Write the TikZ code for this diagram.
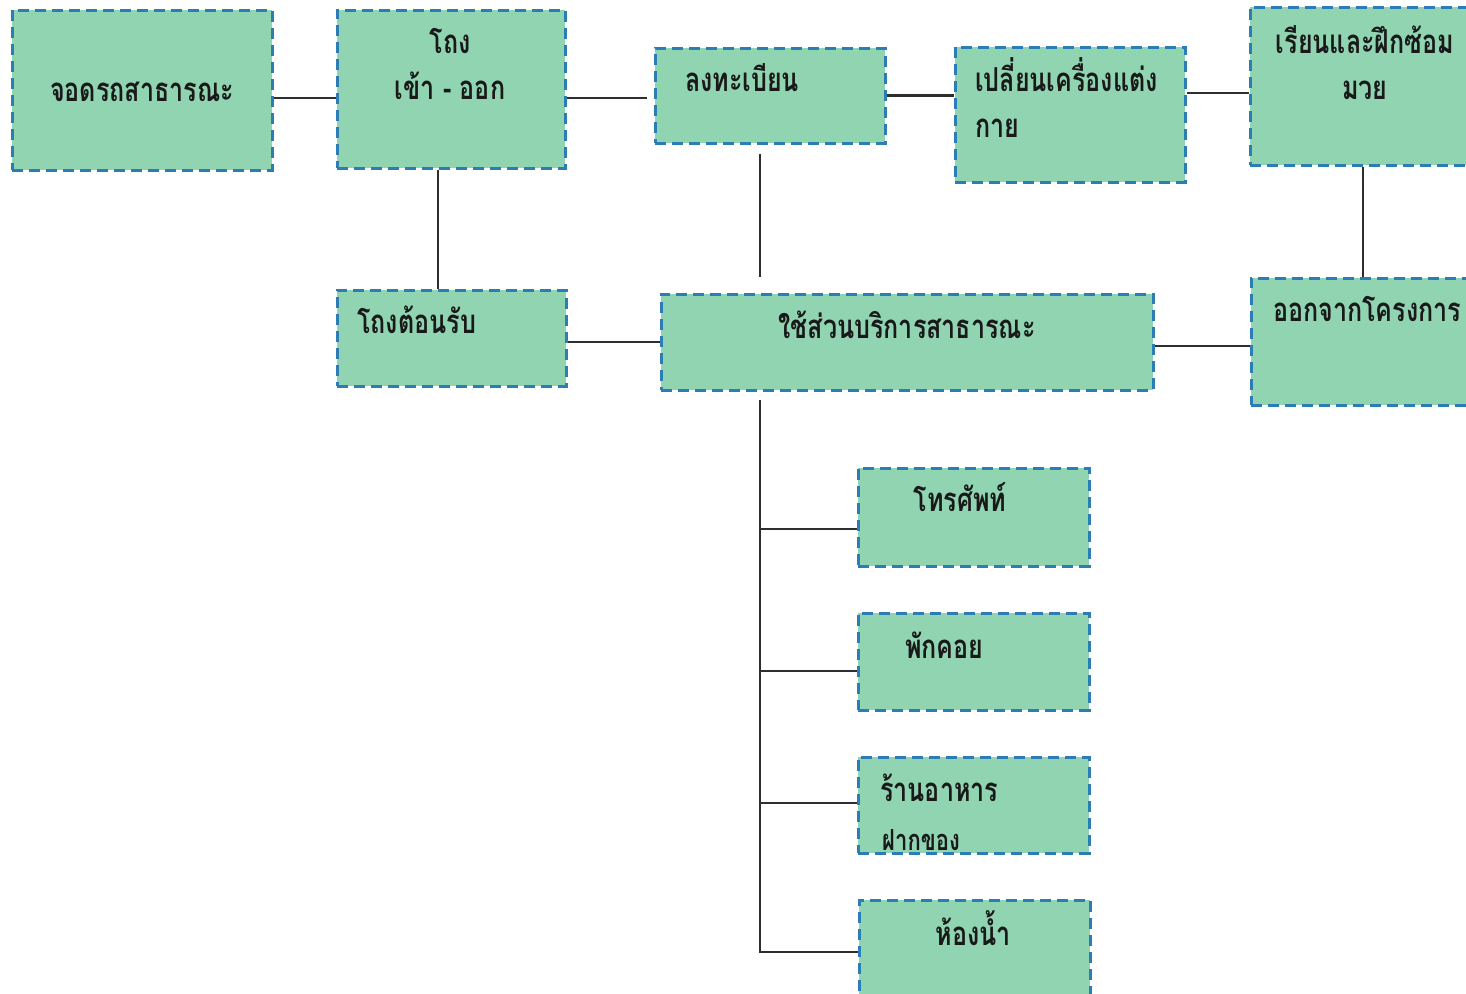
\documentclass[tikz,border=0pt]{standalone}
\usepackage{fontspec}
\usepackage{tikz}
\usetikzlibrary{positioning}
\newfontfamily\thaifont[Script=Thai,FakeStretch=0.76]{Loma}
\definecolor{boxgreen}{HTML}{90D4B2}
\definecolor{boxblue}{HTML}{2B7DB3}
\definecolor{linkgray}{HTML}{2E2E2E}
\tikzset{
  roombox/.style={rectangle,draw=boxblue,fill=boxgreen,line width=3pt,dash pattern=on 11pt off 6pt,inner sep=0pt},
  lbl/.style={inner sep=0pt,font=\thaifont\bfseries\fontsize{33}{36}\selectfont,text=black!90},
  lblw/.style={lbl,anchor=base west},
  lblc/.style={lbl,anchor=base},
  link/.style={draw=linkgray,line width=2.8pt},
}
\begin{document}
\begin{tikzpicture}[x=1pt,y=-1pt]
  \clip (0,0) rectangle (1466,993);
  \fill[white] (0,0) rectangle (1466,993);
  % boxes
  \node[roombox,minimum width=260pt,minimum height=160pt] (bPark) at (142,90) {};
  \node[roombox,minimum width=228pt,minimum height=158pt] (bHall) at (451,89) {};
  \node[roombox,minimum width=230pt,minimum height=95pt] (bReg) at (770,95.5) {};
  \node[roombox,minimum width=230pt,minimum height=135pt] (bDress) at (1070,114.5) {};
  \node[roombox,minimum width=226pt,minimum height=158pt] (bBox) at (1363,86) {};
  \node[roombox,minimum width=229pt,minimum height=96pt] (bLobby) at (451.5,338) {};
  \node[roombox,minimum width=492pt,minimum height=96pt] (bPub) at (907,342) {};
  \node[roombox,minimum width=226pt,minimum height=127pt] (bExit) at (1364,341.5) {};
  \node[roombox,minimum width=231pt,minimum height=98pt] (bPhone) at (973.5,517) {};
  \node[roombox,minimum width=231pt,minimum height=97pt] (bRest) at (973.5,661.5) {};
  \node[roombox,minimum width=231pt,minimum height=96pt] (bFood) at (973.5,805) {};
  \node[roombox,minimum width=231pt,minimum height=104pt] (bToilet) at (974.5,952) {};
  % labels
  \node[lblc] (tPark) at (142,101) {จอดรถสาธารณะ};
  \node[lblc] (tHallA) at (450,53) {โถง};
  \node[lblc] (tHallB) at (450,99) {เข้า - ออก};
  \node[lblw] (tReg) at (685,91) {ลงทะเบียน};
  \node[lblw] (tDressA) at (975,91) {เปลี่ยนเครื่องแต่ง};
  \node[lblw] (tDressB) at (975,137) {กาย};
  \node[lblc] (tBoxA) at (1365,53) {เรียนและฝึกซ้อม};
  \node[lblc] (tBoxB) at (1365,99) {มวย};
  \node[lblw] (tLobby) at (357,333) {โถงต้อนรับ};
  \node[lblc] (tPub) at (907,338) {ใช้ส่วนบริการสาธารณะ};
  \node[lblw] (tExit) at (1273,321) {ออกจากโครงการ};
  \node[lblc] (tPhone) at (960,511) {โทรศัพท์};
  \node[lblw] (tRest) at (905,658) {พักคอย};
  \node[lblw] (tFoodA) at (880,801) {ร้านอาหาร};
  \begin{scope}
    \clip (bFood.north west) rectangle ([yshift=2pt]bFood.south east);
    \node[lblw,font=\thaifont\bfseries\fontsize{29}{31}\selectfont] (tFoodB) at (882,850) {ฝากของ};
  \end{scope}
  \node[lblc] (tToilet) at (973,945) {ห้องน้ำ};
  % connectors
  \coordinate (cTrunk) at (760,0);
  \draw[link] ([yshift=-8pt]bPark.east) -- ([yshift=-8pt]bPark.east -| bHall.west);
  \draw[link,shorten >=7pt] ([yshift=-9pt]bHall.east) -- ([yshift=-9pt]bHall.east -| bReg.west);
  \draw[link] (bReg.east) -- (bReg.east -| bDress.west);
  \draw[link] ([yshift=-7pt]bBox.west) -- ([yshift=-7pt]bBox.west -| bDress.east);
  \draw[link] ([xshift=-13pt]bHall.south) -- ([xshift=-13pt]bHall.south |- bLobby.north);
  \draw[link,shorten <=9pt,shorten >=16pt] (bReg.south -| cTrunk) -- (bPub.north -| cTrunk);
  \draw[link] (bBox.south) -- (bBox.south |- bExit.north);
  \draw[link] (bPub.west) -- (bPub.west -| bLobby.east);
  \draw[link] ([yshift=-4pt]bPub.east) -- ([yshift=-4pt]bPub.east -| bExit.west);
  \draw[link,shorten <=8pt] (bPub.south -| cTrunk) -- (bToilet.west -| cTrunk) -- (bToilet.west);
  \draw[link] ([yshift=-12pt]bPhone.west -| cTrunk) -- ([yshift=-12pt]bPhone.west);
  \draw[link] ([yshift=-9.5pt]bRest.west -| cTrunk) -- ([yshift=-9.5pt]bRest.west);
  \draw[link] ([yshift=2pt]bFood.west -| cTrunk) -- ([yshift=2pt]bFood.west);
\end{tikzpicture}
\end{document}
